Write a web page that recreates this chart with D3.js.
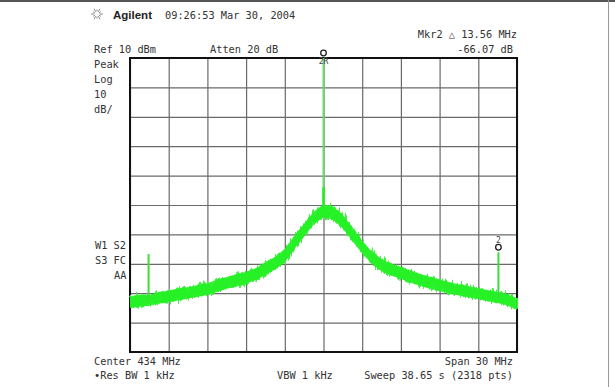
<!DOCTYPE html>
<html><head><meta charset="utf-8">
<script src="https://cdn.jsdelivr.net/npm/d3@7"></script>
<style>
html,body{margin:0;padding:0;background:#fff;}
svg{display:block;}
text{font-family:"DejaVu Sans Mono",monospace;font-size:10.3px;fill:#333;}
</style></head>
<body><svg id="c" width="615" height="387"></svg>
<script>
// ---- data ----
const centerMHz = 434, spanMHz = 30;
const refLevel = 10, dbPerDiv = 10, divisions = 10;
const xTicks = [419,422,425,428,431,434,437,440,443,446,449];
const yTicks = [-90,-80,-70,-60,-50,-40,-30,-20,-10,0,10];
// trace envelope sampled every 0.75 MHz from 419 to 449
const traceFreq = [419,419.75,420.5,421.25,422,422.75,423.5,424.25,425,425.75,426.5,427.25,428,428.75,429.5,430.25,431,431.75,432.5,433.25,434,434.75,435.5,436.25,437,437.75,438.5,439.25,440,440.75,441.5,442.25,443,443.75,444.5,445.25,446,446.75,447.5,448.25,449];
const traceUpper = [-71.0,-70.5,-70.6,-69.6,-69.2,-68.4,-68.0,-67.2,-66.6,-65.3,-64.5,-63.6,-62.7,-61.5,-59.6,-57.6,-55.0,-50.4,-46.3,-42.2,-39.8,-40.4,-43.4,-47.6,-52.1,-55.9,-58.4,-59.9,-61.1,-62.3,-63.5,-64.4,-65.4,-66.2,-67.0,-67.6,-68.3,-68.9,-69.6,-70.3,-71.7];
const traceLower = [-75.0,-74.6,-74.3,-73.6,-73.0,-72.5,-71.8,-71.2,-70.6,-69.5,-68.5,-67.8,-66.8,-65.5,-63.8,-61.9,-59.6,-55.0,-50.7,-46.6,-44.2,-45.0,-48.0,-52.3,-56.5,-60.1,-62.5,-64.1,-65.1,-66.5,-67.4,-68.5,-69.3,-70.1,-70.8,-71.5,-72.0,-72.7,-73.3,-74.2,-75.7];
// carrier and spurs: frequency, top level, base level (dBm)
const carrier = {f:434, top:10, base:-42};
const spurs = [{f:420.44, top:-56.7, base:-72.3},{f:447.56, top:-56.07, base:-71.5}];
const markers = [{f:434, level:10, label:"2R", below:true},{f:447.56, level:-56.07, label:"2", below:false}];
const headerTexts = ["09:26:53 Mar 30, 2004","Mkr2 \u25B3 13.56 MHz","Ref 10 dBm","Atten 20 dB","-66.07 dB"];
const leftTexts = ["Peak","Log","10","dB/"];
const statusTexts = ["W1 S2","S3 FC","AA"];
const footerTexts = ["Center 434 MHz","Span 30 MHz","\u2022Res BW 1 kHz","VBW 1 kHz","Sweep 38.65 s (2318 pts)"];

// ---- layout ----
const svg = d3.select("#c");
const L=130, R=517, T=58, B=352;
const x = d3.scaleLinear().domain([centerMHz-spanMHz/2, centerMHz+spanMHz/2]).range([L,R]);
const y = d3.scaleLinear().domain([refLevel-dbPerDiv*divisions, refLevel]).range([B,T]);

// noise-texture filter (visual style only)
const defs = svg.append("defs");
const flt = defs.append("filter").attr("id","fuzz").attr("x","-2%").attr("y","-20%").attr("width","104%").attr("height","140%");
flt.append("feTurbulence").attr("type","fractalNoise").attr("baseFrequency","0.6 0.03").attr("numOctaves",2).attr("seed",3).attr("result","n");
flt.append("feDisplacementMap").attr("in","SourceGraphic").attr("in2","n").attr("scale",12).attr("xChannelSelector","R").attr("yChannelSelector","G");

// outer frame of screenshot
svg.append("line").attr("x1",0).attr("x2",615).attr("y1",1).attr("y2",1).attr("stroke","#555").attr("stroke-width",2);
svg.append("line").attr("x1",608.5).attr("x2",608.5).attr("y1",0).attr("y2",387).attr("stroke","#999").attr("stroke-width",1);

// grid via axes
const gx = svg.append("g").attr("transform",`translate(0,${B})`)
  .call(d3.axisBottom(x).tickValues(xTicks).tickSize(-(B-T)).tickFormat(""));
const gy = svg.append("g").attr("transform",`translate(${L},0)`)
  .call(d3.axisLeft(y).tickValues(yTicks).tickSize(-(R-L)).tickFormat(""));
[gx,gy].forEach(g=>{
  g.select(".domain").remove();
  g.selectAll(".tick line").attr("stroke","#6a6a6a").attr("stroke-width",1.2);
});
svg.append("rect").attr("x",L).attr("y",T).attr("width",R-L).attr("height",B-T)
  .attr("fill","none").attr("stroke","#111").attr("stroke-width",2);

// trace band
const green = "#22f022";
const pts = traceFreq.map((f,i)=>({f, u:traceUpper[i], l:traceLower[i]}));
const area = d3.area().x(d=>x(d.f)).y0(d=>y(d.l)).y1(d=>y(d.u));
svg.append("path").datum(pts).attr("d", area)
  .attr("fill","#44f044").attr("filter","url(#fuzz)");
svg.append("path").datum(pts).attr("d", area)
  .attr("fill",green).style("opacity",0.9);

// carrier line
svg.append("line").attr("x1",x(carrier.f)).attr("x2",x(carrier.f))
  .attr("y1",y(carrier.top)).attr("y2",y(carrier.base))
  .attr("stroke","#6fd86f").attr("stroke-width",2);
svg.append("line").attr("x1",x(carrier.f)).attr("x2",x(carrier.f))
  .attr("y1",y(carrier.base+8)).attr("y2",y(carrier.base))
  .attr("stroke",green).attr("stroke-width",2.5);
// spurs
svg.selectAll(".spur").data(spurs).enter().append("line")
  .attr("x1",d=>x(d.f)).attr("x2",d=>x(d.f)).attr("y1",d=>y(d.top)).attr("y2",d=>y(d.base))
  .attr("stroke","#3ddc3d").attr("stroke-width",2);

// markers
markers.forEach(m=>{
  const mx = x(m.f), my = y(m.level)-5;
  svg.append("circle").attr("cx",mx).attr("cy",my).attr("r",2.8)
    .attr("fill","#fff").attr("stroke","#222").attr("stroke-width",1.3);
  svg.append("text").attr("x",mx).attr("y", m.below? my+10.5 : my-4.5)
    .attr("text-anchor","middle").style("font-size","8px").style("fill","#444").text(m.label);
});

// logo
const lg = svg.append("g").attr("transform","translate(97,14)");
d3.range(12).forEach(i=>{
  const a = i*Math.PI/6;
  lg.append("line").attr("x1",Math.cos(a)*2.5).attr("y1",Math.sin(a)*2.5)
    .attr("x2",Math.cos(a)*(i%2?4.5:6)).attr("y2",Math.sin(a)*(i%2?4.5:6))
    .attr("stroke","#888").attr("stroke-width",1);
});
svg.append("text").attr("x",113).attr("y",19)
  .style("font-family","'Liberation Sans',Arial,sans-serif").style("font-weight","bold").style("font-size","11.5px").style("fill","#222")
  .text("Agilent");

// header texts
const T1 = [[165,19,"start"],[517,38,"end"],[94,53,"start"],[210,53,"start"],[513,53,"end"]];
headerTexts.forEach((t,i)=>svg.append("text").attr("x",T1[i][0]).attr("y",T1[i][1]).attr("text-anchor",T1[i][2]).attr("xml:space","preserve").text(t));
leftTexts.forEach((t,i)=>svg.append("text").attr("x",94).attr("y",68+i*15).text(t));
const T2 = [[95,249],[95,264],[114,279]];
statusTexts.forEach((t,i)=>svg.append("text").attr("x",T2[i][0]).attr("y",T2[i][1]).attr("xml:space","preserve").text(t));
const T3 = [[94,365,"start"],[513,365,"end"],[94,379,"start"],[277,379,"start"],[513,379,"end"]];
footerTexts.forEach((t,i)=>svg.append("text").attr("x",T3[i][0]).attr("y",T3[i][1]).attr("text-anchor",T3[i][2]).text(t));
</script></body></html>
